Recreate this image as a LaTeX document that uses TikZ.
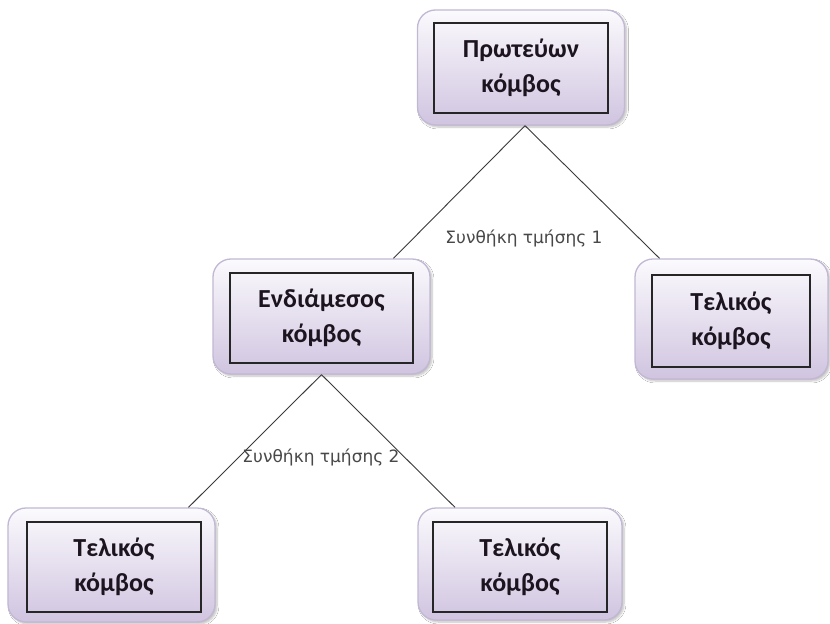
\documentclass[tikz,border=0pt]{standalone}
\usepackage{fontspec}
\setmainfont{Carlito}
\newfontfamily\labelfont{DejaVu Sans}
\usetikzlibrary{calc,shadows.blur}

\definecolor{boxedge}{HTML}{C2B8D4}
\definecolor{boxtop}{HTML}{FBFAFD}
\definecolor{boxbottom}{HTML}{D0C4E0}
\definecolor{nodetext}{HTML}{1C141E}
\definecolor{condtext}{HTML}{484848}
\definecolor{linkcol}{HTML}{3A3A3A}

\tikzset{
  outerbox/.style={rounded corners=18bp, draw=boxedge, line width=1.3bp,
    top color=boxtop, bottom color=boxbottom,
    blur shadow={shadow xshift=2bp, shadow yshift=-2bp, shadow blur steps=6, shadow opacity=25},
    inner sep=0pt},
  innerbox/.style={draw=black!85, line width=1.3bp, inner sep=0pt,
    align=center, text=nodetext,
    font=\fontsize{26bp}{35bp}\selectfont\bfseries},
  link/.style={draw=linkcol, line width=0.9bp},
  cond/.style={text=condtext, font=\labelfont\fontsize{17bp}{20bp}\selectfont, inner sep=0pt}
}

\begin{document}
\begin{tikzpicture}[x=1bp, y=-1bp]
  \useasboundingbox[fill=white] (0,0) rectangle (830,624);

  % outer rounded frames
  \node[outerbox, minimum width=207bp, minimum height=115bp] (rootF) at (521,67.5) {};
  \node[outerbox, minimum width=217bp, minimum height=115bp] (midF) at (321.5,316.5) {};
  \node[outerbox, minimum width=193bp, minimum height=120bp] (rightF) at (731.5,319) {};
  \node[outerbox, minimum width=207bp, minimum height=114bp] (leafAF) at (111.5,565) {};
  \node[outerbox, minimum width=204bp, minimum height=112bp] (leafBF) at (520,564) {};

  % inner framed labels
  \node[innerbox, minimum width=174bp, minimum height=90bp] (root) at (521,68) {Πρωτεύων\\κόμβος};
  \node[innerbox, minimum width=183bp, minimum height=90bp] (mid) at (321.5,318) {Ενδιάμεσος\\κόμβος};
  \node[innerbox, minimum width=158bp, minimum height=92bp] (right) at (731,321) {Τελικός\\κόμβος};
  \node[innerbox, minimum width=174bp, minimum height=90bp] (leafA) at (114,567) {Τελικός\\κόμβος};
  \node[innerbox, minimum width=174bp, minimum height=90bp] (leafB) at (520,567) {Τελικός\\κόμβος};

  % branches
  \coordinate (rootTip) at ($(rootF.south)+(4,0)$);
  \draw[link] (rootTip) -- ($(midF.north)+(72,0)$);
  \draw[link] (rootTip) -- ($(rightF.north)+(-72,0)$);
  \draw[link] (midF.south) -- ($(leafAF.north)+(77,0)$);
  \draw[link] (midF.south) -- ($(leafBF.north)+(-65,0)$);

  % split conditions
  \node[cond] (c1) at (524,238) {Συνθήκη τμήσης 1};
  \node[cond] (c2) at (321,457) {Συνθήκη τμήσης 2};
\end{tikzpicture}
\end{document}
